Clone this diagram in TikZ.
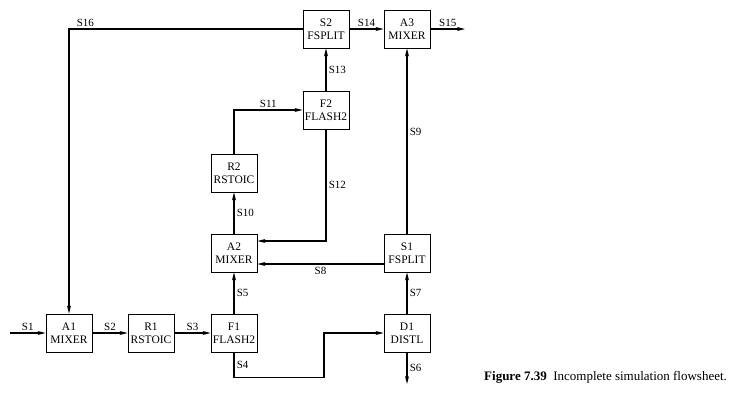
\documentclass[tikz,border=0pt]{standalone}
\usepackage{fontspec}
\setmainfont{Liberation Serif}
\usepackage{tikz}
\usetikzlibrary{positioning, arrows.meta, calc}

\begin{document}
\begin{tikzpicture}[
    x = 1pt, y = -1pt,
    > = {Stealth[length=8pt, width=4pt]},
    block/.style={draw, line width=0.9pt, minimum width=46pt, minimum height=38pt,
                  align=center, inner sep=1pt, font=\fontsize{11.5}{12.7}\selectfont},
    stream/.style={line width=1.6pt},
    lbl/.style={font=\fontsize{11}{12}\selectfont, inner sep=2pt}
]
\useasboundingbox (0,0) rectangle (735,402);

% --- Blocks ---
\node[block] (A1) at (69,333)  {A1\\MIXER};
\node[block] (R1) at (151,333) {R1\\RSTOIC};
\node[block] (F1) at (234,333) {F1\\FLASH2};
\node[block] (D1) at (407,333) {D1\\DISTL};
\node[block] (SP1) at (407,253) {S1\\FSPLIT};
\node[block] (A2) at (234,253) {A2\\MIXER};
\node[block] (R2) at (234,173) {R2\\RSTOIC};
\node[block] (F2) at (326,110) {F2\\FLASH2};
\node[block] (SP2) at (326,29) {S2\\FSPLIT};
\node[block] (A3) at (407,29)  {A3\\MIXER};

% free ends
\coordinate (in1) at (10,333);
\coordinate (out6) at (407,384);
\coordinate (out15) at (465,29);

% --- Streams ---
\draw[stream, ->] (in1) -- node[lbl, above] (lS1) {S1} (A1.west);
\draw[stream, ->] (A1.east) -- node[lbl, above] (lS2) {S2} (R1.west);
\draw[stream, ->] (R1.east) -- node[lbl, above] (lS3) {S3} (F1.west);
\draw[stream, ->] (F1.south) -- node[lbl, right] (lS4) {S4} ++(0,25)
    -| (324,333) -- (D1.west);
\draw[stream, ->] (F1.north) -- node[lbl, right] (lS5) {S5} (A2.south);
\draw[stream, ->] (D1.south) -- node[lbl, right] (lS6) {S6} (out6);
\draw[stream, ->] (D1.north) -- node[lbl, right] (lS7) {S7} (SP1.south);
\draw[stream, ->] ([yshift=-11pt]SP1.west) -- node[lbl, below] (lS8) {S8} ([yshift=-11pt]A2.east);
\draw[stream, ->] (SP1.north) -- node[lbl, right, pos=0.55] (lS9) {S9} (A3.south);
\draw[stream, ->] (A2.north) -- node[lbl, right] (lS10) {S10} (R2.south);
\draw[stream, ->] (R2.north) |- node[lbl, above, pos=0.75] (lS11) {S11} (F2.west);
\draw[stream, ->] (F2.south) -- node[lbl, right] (lS12) {S12} (F2.south |- 0,241) -- ([yshift=12pt]A2.east);
\draw[stream, ->] (F2.north) -- node[lbl, right] (lS13) {S13} (SP2.south);
\draw[stream, ->] (SP2.east) -- node[lbl, above] (lS14) {S14} (A3.west);
\draw[stream, ->] (A3.east) -- node[lbl, above] (lS15) {S15} (out15);
\draw[stream, ->] (SP2.west) -- node[lbl, above, pos=0.93] (lS16) {S16} (A1.north |- SP2.west) -- (A1.north);

% --- Caption ---
\node[anchor=west, font=\fontsize{13}{14}\selectfont, inner sep=0pt] (cap) at (484,377)
    {\textbf{Figure 7.39}\enspace Incomplete simulation flowsheet.};

\end{tikzpicture}
\end{document}
